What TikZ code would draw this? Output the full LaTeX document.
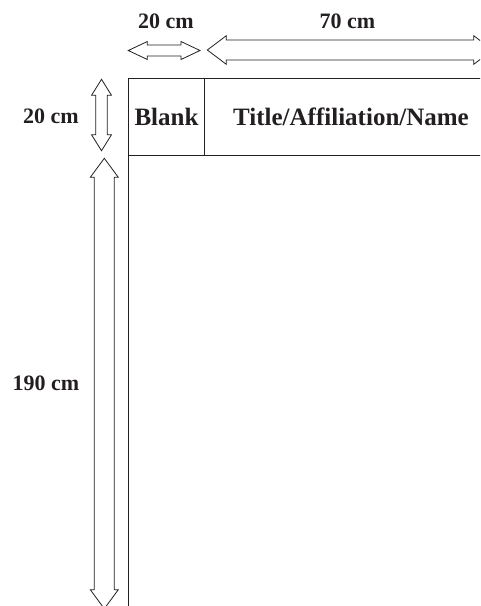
\documentclass[tikz,border=0pt]{standalone}
\usepackage{fontspec}
\setmainfont{Liberation Serif}
\definecolor{ink}{HTML}{231F20}
\begin{document}
\begin{tikzpicture}[x=1pt,y=-1pt,
  dimarrow/.style={draw=ink,line width=0.8pt,line join=miter,fill=white},
  rule/.style={draw=ink,line width=0.9pt},
  dimlabel/.style={font=\bfseries\fontsize{22}{24}\selectfont,text=ink,inner sep=0pt,anchor=base},
  celltext/.style={font=\bfseries\fontsize{25}{28}\selectfont,text=ink,inner sep=0pt,anchor=base}]
\useasboundingbox (0,0) rectangle (480,606);
\clip (0,0) rectangle (480,606);
% table lines
\coordinate (tl) at (128,78.5);
\coordinate (tr) at (482,78.5);
\coordinate (ml) at (128,155);
\coordinate (mr) at (482,155);
\coordinate (bl) at (128,608);
\coordinate (dt) at (204,78.5);
\coordinate (db) at (204,155);
\draw[rule] (tl) -- (tr);
\draw[rule] (ml) -- (mr);
\draw[rule] (tl) -- (bl);
\draw[rule] (dt) -- (db);
% cell texts
\node[celltext] (blank) at (166.5,125.7) {Blank};
\node[celltext] (title) at (351,125.7) {Title/Affiliation/Name};
% dimension arrows
\draw[dimarrow] (128.3,50.5) -- (147.3,41.5) -- (147.3,45) -- (181,45) -- (181,41.5) -- (200,50.5)
  -- (181,59.5) -- (181,56) -- (147.3,56) -- (147.3,59.5) -- cycle;
\draw[dimarrow] (207.3,50) -- (226.3,35.7) -- (226.3,40) -- (473.7,40) -- (473.7,35.7) -- (492.7,50)
  -- (473.7,64.3) -- (473.7,60) -- (226.3,60) -- (226.3,64.3) -- cycle;
\draw[dimarrow] (101.5,79.3) -- (111.5,95.3) -- (107.3,95.3) -- (107.3,134.7) -- (111.5,134.7) -- (101.5,150.7)
  -- (91.5,134.7) -- (95.7,134.7) -- (95.7,95.3) -- (91.5,95.3) -- cycle;
\draw[dimarrow] (104.3,158.3) -- (118.3,177.3) -- (114.3,177.3) -- (114.3,589.7) -- (118.3,589.7) -- (104.3,608.7)
  -- (90.3,589.7) -- (94.3,589.7) -- (94.3,177.3) -- (90.3,177.3) -- cycle;
% dimension labels
\node[dimlabel] (w20) at (166,28.3) {20 cm};
\node[dimlabel] (w70) at (347.5,28.3) {70 cm};
\node[dimlabel] (h20) at (51,123.3) {20 cm};
\node[dimlabel] (h190) at (46,390.7) {190 cm};
\end{tikzpicture}
\end{document}
